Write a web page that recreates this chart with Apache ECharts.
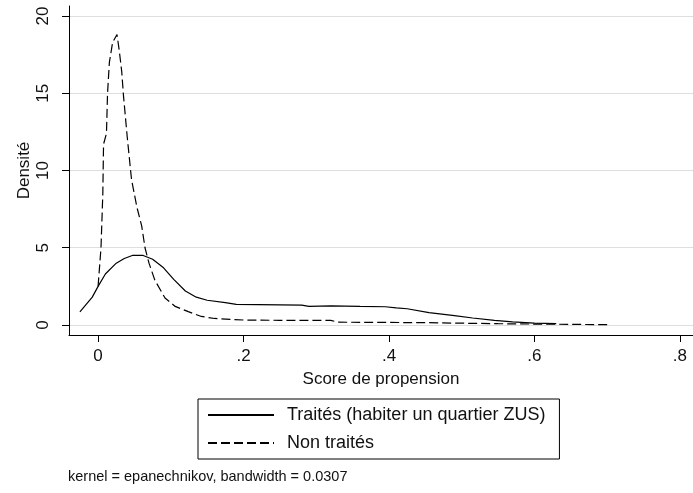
<!DOCTYPE html>
<html><head><meta charset="utf-8">
<script src="https://cdn.jsdelivr.net/npm/echarts@6/dist/echarts.min.js"></script>
<style>html,body{margin:0;padding:0;background:#fff}#c{width:693px;height:493px}</style>
</head><body><div id="c"></div>
<script>
// ---- data ----
const xTicks = [0, 0.2, 0.4, 0.6, 0.8];
const xTickLabels = ['0', '.2', '.4', '.6', '.8'];
const yTicks = [0, 5, 10, 15, 20];
const yTickLabels = ['0', '5', '10', '15', '20'];
const seriesNames = ['Traités (habiter un quartier ZUS)', 'Non traités'];
const xTitle = 'Score de propension';
const yTitle = 'Densité';
const noteText = 'kernel = epanechnikov, bandwidth = 0.0307';

const treatedX = [-0.025, -0.008, 0.0, 0.01, 0.025, 0.036, 0.047, 0.062, 0.075, 0.09, 0.104, 0.12, 0.135, 0.15, 0.175, 0.19, 0.25, 0.28, 0.29, 0.32, 0.36, 0.395, 0.41, 0.425, 0.455, 0.49, 0.515, 0.545, 0.57, 0.6, 0.63];
const treatedY = [0.85, 1.8, 2.5, 3.3, 4.0, 4.3, 4.5, 4.5, 4.25, 3.7, 2.95, 2.2, 1.8, 1.6, 1.45, 1.33, 1.3, 1.28, 1.2, 1.24, 1.2, 1.18, 1.1, 1.05, 0.8, 0.6, 0.45, 0.3, 0.2, 0.12, 0.08];

const controlX = [0.0, 0.004, 0.0065, 0.0075, 0.0115, 0.013, 0.0155, 0.02, 0.026, 0.029, 0.0325, 0.035, 0.040, 0.046, 0.0535, 0.06, 0.0645, 0.07, 0.078, 0.092, 0.106, 0.124, 0.142, 0.16, 0.2, 0.25, 0.32, 0.33, 0.45, 0.55, 0.62, 0.7];
const controlY = [2.5, 5.0, 8.5, 11.7, 12.4, 15.0, 17.0, 18.3, 18.8, 17.8, 16.4, 14.8, 12.2, 9.4, 7.6, 6.4, 5.0, 4.0, 2.9, 1.75, 1.2, 0.86, 0.55, 0.42, 0.32, 0.3, 0.3, 0.18, 0.15, 0.08, 0.05, 0.02];

// ---- chart ----
const pairs = (xs, ys) => xs.map((x, i) => [x, ys[i]]);
const lookup = (vals, labels) => v => {
  const i = vals.findIndex(t => Math.abs(t - v) < 1e-9);
  return i >= 0 ? labels[i] : '';
};
const FONT = '"Liberation Sans", Arial, sans-serif';
const chart = echarts.init(document.getElementById('c'), null, {renderer: 'canvas'});
chart.setOption({
  animation: false,
  backgroundColor: '#fff',
  grid: {left: 69, right: 0, top: 6, bottom: 158, containLabel: false},
  xAxis: {
    type: 'value', min: -0.04, max: 0.818,
    name: xTitle, nameLocation: 'middle', nameGap: 36, nameMoveOverlap: false,
    nameTextStyle: {fontFamily: FONT, fontSize: 17, color: '#111'},
    axisLine: {onZero: false, lineStyle: {color: '#000', width: 1}},
    axisTick: {show: true, length: 7, customValues: xTicks, lineStyle: {color: '#000'}},
    axisLabel: {customValues: xTicks, formatter: lookup(xTicks, xTickLabels), margin: 13,
      fontFamily: FONT, fontSize: 17, color: '#111'},
    splitLine: {show: false}
  },
  yAxis: {
    type: 'value', min: -0.65, max: 20.65,
    name: yTitle, nameLocation: 'middle', nameGap: 36, nameRotate: 90, nameMoveOverlap: false,
    nameTextStyle: {fontFamily: FONT, fontSize: 17, color: '#111'},
    axisLine: {show: true, onZero: false, lineStyle: {color: '#000', width: 1}},
    axisTick: {show: true, length: 7, customValues: yTicks, lineStyle: {color: '#000'}},
    axisLabel: {customValues: yTicks, formatter: lookup(yTicks, yTickLabels), rotate: 90, margin: 17,
      fontFamily: FONT, fontSize: 17, color: '#111'},
    splitLine: {show: true, lineStyle: {color: '#dedede', width: 1}}
  },
  legend: {
    orient: 'vertical', left: 198, top: 399,
    padding: [7, 14, 7, 9],
    borderColor: '#000', borderWidth: 1, borderRadius: 0,
    itemWidth: 66, itemHeight: 14, itemGap: 10,
    itemStyle: {opacity: 0},
    textStyle: {fontFamily: FONT, fontSize: 18, color: '#111', padding: [0, 0, 0, 8]},
    data: seriesNames
  },
  graphic: [{
    type: 'text', left: 68, top: 469,
    style: {text: noteText, font: '14.5px ' + FONT, fill: '#111'}
  }],
  series: [
    {name: seriesNames[0], type: 'line', data: pairs(treatedX, treatedY), symbol: 'none',
      lineStyle: {color: '#000', width: 1.2, type: 'solid'}, itemStyle: {color: '#000'}},
    {name: seriesNames[1], type: 'line', data: pairs(controlX, controlY), symbol: 'none',
      lineStyle: {color: '#000', width: 1.2, type: [9, 4]}, itemStyle: {color: '#000'}}
  ]
});
</script></body></html>
